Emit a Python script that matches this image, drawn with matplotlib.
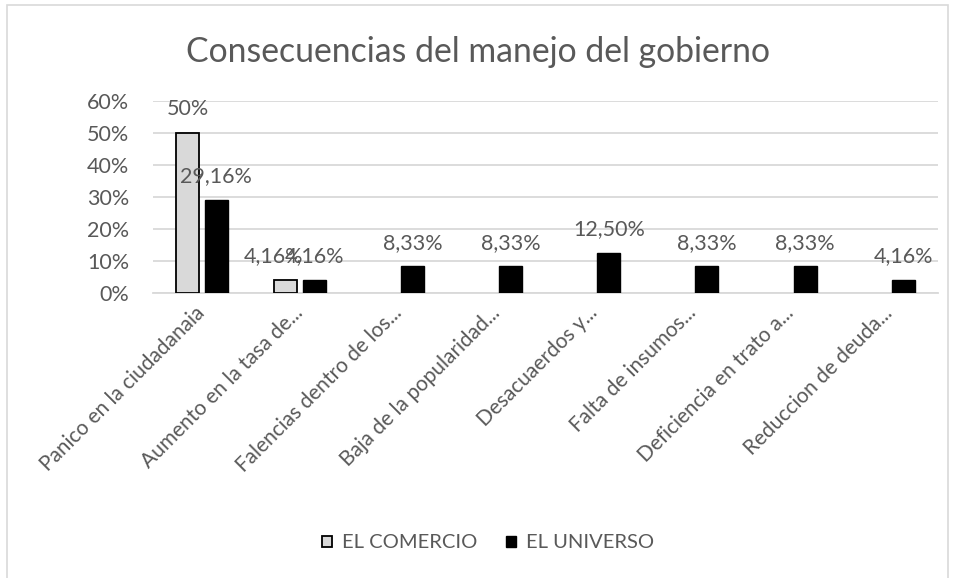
import matplotlib
matplotlib.use("Agg")
import matplotlib.pyplot as plt
from matplotlib.patches import Rectangle
import numpy as np

categories = [
    "Panico en la ciudadanaia",
    "Aumento en la tasa de...",
    "Falencias dentro de los...",
    "Baja de la popularidad...",
    "Desacuaerdos y...",
    "Falta de insumos...",
    "Deficiencia en trato a...",
    "Reduccion de deuda...",
]
series_names = ["EL COMERCIO", "EL UNIVERSO"]
el_comercio = [0.50, 0.0416, np.nan, np.nan, np.nan, np.nan, np.nan, np.nan]
el_universo = [0.2916, 0.0416, 0.0833, 0.0833, 0.125, 0.0833, 0.0833, 0.0416]
y_ticks = [0.0, 0.1, 0.2, 0.3, 0.4, 0.5, 0.6]
title = "Consecuencias del manejo del gobierno"

TEXT = "#595959"
GRID = "#D9D9D9"
FONT = ["Lato", "DejaVu Sans"]
plt.rcParams["font.family"] = FONT

W, H = 955, 578
fig = plt.figure(figsize=(W / 100, H / 100), dpi=100)

# chart frame
fig.patches.append(Rectangle((7 / W, -0.01), (948 - 7) / W, 1 - 5 / H + 0.01,
                             transform=fig.transFigure, fill=False,
                             edgecolor=GRID, linewidth=1.2))

ax = fig.add_axes([153 / W, 1 - 293 / H, (938 - 153) / W, (293 - 101) / H])

x = np.arange(len(categories))
bw = 0.235
off = 0.145
b1 = ax.bar(x - off, el_comercio, bw, color="#D9D9D9", edgecolor="black",
            linewidth=1.3, label=series_names[0], zorder=3)
b2 = ax.bar(x + off, el_universo, bw, color="black", edgecolor="black",
            linewidth=1.0, label=series_names[1], zorder=3)


def pct(v):
    s = f"{v * 100:.2f}".replace(".", ",")
    if s.endswith(",00"):
        s = s[:-3]
    return s + "%"


for xs, vals, is_first in ((x - off, el_comercio, True), (x + off, el_universo, False)):
    for xi, v in zip(xs, vals):
        if np.isnan(v):
            continue
        # nudge the small first-series label left where it collides with its neighbour
        shift = -9 if (is_first and v < 0.1) else 0
        ax.annotate(pct(v), (xi, v), xytext=(shift, 17), textcoords="offset points",
                    ha="center", va="center", fontsize=15.5, color=TEXT, zorder=4)

ax.set_ylim(0, 0.6)
ax.set_xlim(-0.5, len(categories) - 0.5)
ax.set_yticks(y_ticks)
ax.set_yticklabels([f"{int(round(t * 100))}%" for t in y_ticks])
ax.yaxis.grid(True, color=GRID, linewidth=1.3, zorder=0)
ax.set_axisbelow(True)
for s in ("top", "right", "left"):
    ax.spines[s].set_visible(False)
ax.spines["bottom"].set_color(GRID)
ax.spines["bottom"].set_linewidth(1.3)
ax.tick_params(axis="y", length=0, pad=17, labelsize=15.5, labelcolor=TEXT)
ax.tick_params(axis="x", length=0, pad=12, labelsize=15, labelcolor=TEXT)
ax.set_xticks(x)
ax.set_xticklabels(categories, rotation=45, ha="right", va="center",
                   rotation_mode="anchor")

fig.text(0.5, 1 - 52 / H, title, ha="center", va="center", fontsize=24.3,
         color=TEXT)

fig.legend(handles=[b1, b2], labels=series_names, loc="center",
           bbox_to_anchor=(488 / W, 1 - 543 / H), ncol=2, frameon=False,
           fontsize=14.5, labelcolor=TEXT, handlelength=0.5, handleheight=0.5,
           handletextpad=0.5, columnspacing=1.4)

fig.savefig("out.png", dpi=100)
